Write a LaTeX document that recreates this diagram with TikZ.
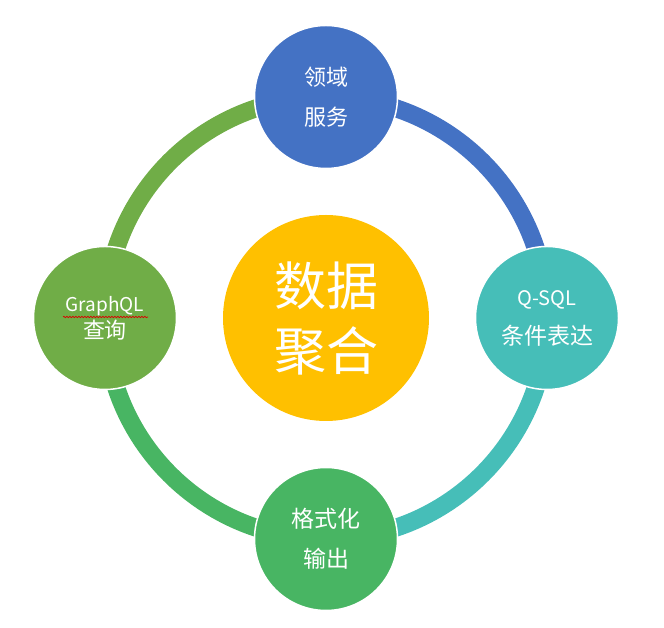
\documentclass[tikz,border=0pt]{standalone}
\usepackage{fontspec}
\setmainfont{Noto Sans CJK SC}
\usetikzlibrary{decorations.pathmorphing}
\definecolor{cblue}{HTML}{4472C4}
\definecolor{cteal}{HTML}{46BEB8}
\definecolor{cgreen}{HTML}{48B563}
\definecolor{colive}{HTML}{70AD47}
\definecolor{cyellow}{HTML}{FFC000}
\tikzset{
  ringarc/.style={line width=18pt, line cap=butt},
  bubble/.style={circle, minimum size=143pt, inner sep=0pt, draw=white, line width=1.5pt, text=white, align=center},
  hub/.style={circle, minimum size=206pt, inner sep=0pt, fill=cyellow, text=white, align=center}
}
\begin{document}
\begin{tikzpicture}[x=1pt,y=1pt]
\useasboundingbox (0,0) rectangle (664,628);
\coordinate (c) at (326,310);
\coordinate (ptop) at (326,531);
\coordinate (pright) at (547,310);
\coordinate (pbottom) at (326,89);
\coordinate (pleft) at (105,310);
% ring arcs
\draw[ringarc, cblue] (ptop) arc[start angle=90, end angle=0, radius=221pt];
\draw[ringarc, cteal] (pright) arc[start angle=0, end angle=-90, radius=221pt];
\draw[ringarc, cgreen] (pbottom) arc[start angle=-90, end angle=-180, radius=221pt];
\draw[ringarc, colive] (pleft) arc[start angle=180, end angle=90, radius=221pt];
% circles
\node[hub, font=\fontsize{52}{65}\selectfont] (hubnode) at (c) {数据\\聚合};
\node[bubble, fill=cblue, font=\fontsize{22}{40}\selectfont] (topnode) at (ptop) {领域\\服务};
\node[bubble, fill=cteal, font=\fontsize{23}{39}\selectfont] (rightnode) at (pright) {{\fontsize{20}{39}\selectfont Q-SQL}\\条件表达};
\node[bubble, fill=cgreen, font=\fontsize{23}{40}\selectfont] (bottomnode) at (pbottom) {格式化\\输出};
\node[bubble, fill=colive, font=\fontsize{22}{27}\selectfont] (leftnode) at (pleft) {{\fontsize{19}{27}\selectfont GraphQL}\\查询};
% spell-check squiggle
\draw[red!85!black, line width=0.7pt, decorate, decoration={snake, amplitude=0.7pt, segment length=3pt}]
  ([xshift=-42pt, yshift=1pt]leftnode.center) -- ([xshift=43pt, yshift=1pt]leftnode.center);
\end{tikzpicture}
\end{document}
